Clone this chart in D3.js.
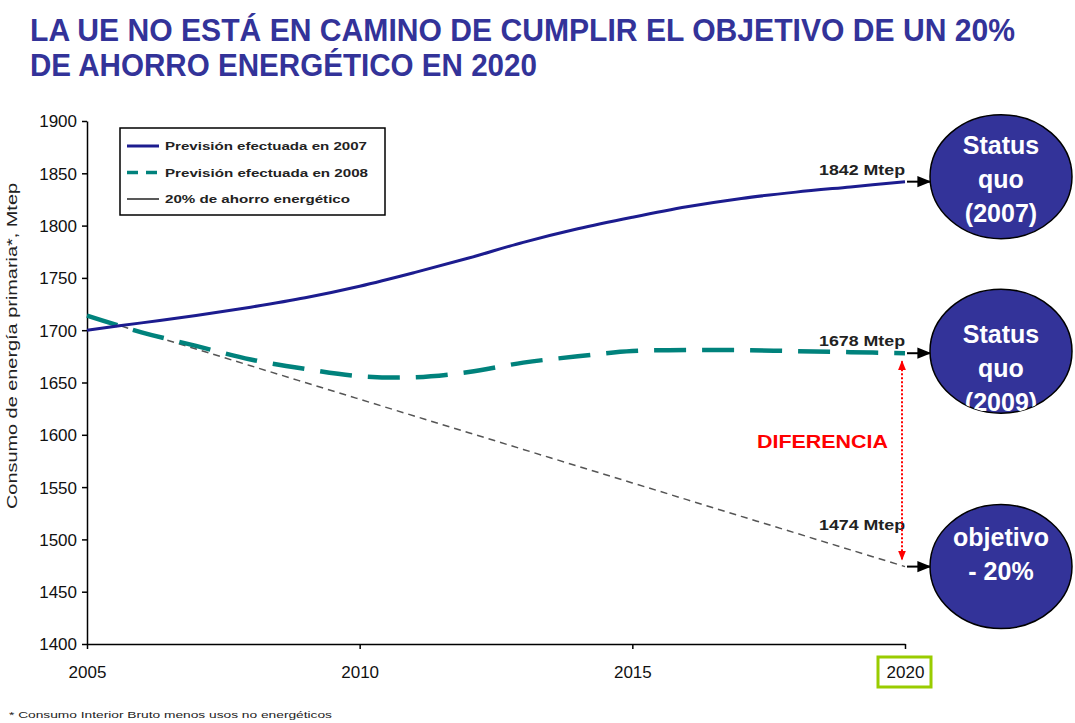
<!DOCTYPE html>
<html>
<head>
<meta charset="utf-8">
<script src="https://cdn.jsdelivr.net/npm/d3@7"></script>
<style>
  html, body { margin: 0; padding: 0; background: #fff; }
  svg { display: block; font-family: Arial, "Liberation Sans", sans-serif; }
</style>
</head>
<body>
<svg id="chart" width="1075" height="723"></svg>
<script>
// data (Mtep)
const years = [2005, 2006, 2007, 2008, 2009, 2010, 2011, 2012, 2013, 2014, 2015, 2016, 2017, 2018, 2019, 2020];
const prev2007 = [1700, 1707, 1714, 1722, 1731, 1742, 1755, 1769, 1784, 1797, 1808, 1818, 1826, 1832, 1837, 1842];
const prev2009 = [1714, 1698, 1685, 1672, 1663, 1656, 1655, 1660, 1669, 1675, 1680, 1681, 1681, 1680, 1679, 1678];
const target = [1714, 1698, 1682, 1666, 1650, 1634, 1618, 1602, 1586, 1570, 1554, 1538, 1522, 1506, 1490, 1474];

const yTicks = [1400, 1450, 1500, 1550, 1600, 1650, 1700, 1750, 1800, 1850, 1900];
const xTicks = [2005, 2010, 2015, 2020];

const legendLabels = ["Previsión efectuada en 2007", "Previsión efectuada en 2008", "20% de ahorro energético"];
const bubbles = [
  { lines: ["Status", "quo", "(2007)"], value: 1842, label: "1842 Mtep" },
  { lines: ["Status", "quo", "(2009)"], value: 1678, label: "1678 Mtep" },
  { lines: ["objetivo", "- 20%"], value: 1474, label: "1474 Mtep" }
];

const BLUE = "#1c1c8f", TEAL = "#00827c", GREY = "#555", BUBBLE = "#333399";

const svg = d3.select("#chart");

const x = d3.scaleLinear().domain([2005, 2020]).range([87, 905]);
const y = d3.scaleLinear().domain([1400, 1900]).range([644, 121]);

// defs: arrow heads
const defs = svg.append("defs");
defs.append("marker").attr("id", "arrBlack")
  .attr("viewBox", "0 0 10 10").attr("refX", 9).attr("refY", 5)
  .attr("markerWidth", 7).attr("markerHeight", 7).attr("orient", "auto")
  .append("path").attr("d", "M0,1L10,5L0,9Z").attr("fill", "#000");
defs.append("marker").attr("id", "arrRed")
  .attr("viewBox", "0 0 10 10").attr("refX", 9).attr("refY", 5)
  .attr("markerWidth", 5).attr("markerHeight", 5).attr("orient", "auto-start-reverse")
  .append("path").attr("d", "M0,1L10,5L0,9Z").attr("fill", "#f00");

// title
const title = svg.append("g").attr("fill", BUBBLE).attr("font-weight", "bold")
  .attr("font-family", "'Liberation Sans Narrow', 'Arial Narrow', Arial, sans-serif")
  .attr("font-size", 31);
title.append("text").attr("x", 30).attr("y", 41)
  .attr("textLength", 985).attr("lengthAdjust", "spacingAndGlyphs")
  .text("LA UE NO ESTÁ EN CAMINO DE CUMPLIR EL OBJETIVO DE UN 20%");
title.append("text").attr("x", 30).attr("y", 76)
  .attr("textLength", 507).attr("lengthAdjust", "spacingAndGlyphs")
  .text("DE AHORRO ENERGÉTICO EN 2020");

// axes
const yAxis = svg.append("g").attr("transform", "translate(87,0)")
  .call(d3.axisLeft(y).tickValues(yTicks).tickFormat(d3.format("d")).tickSize(5).tickSizeOuter(0));
const xAxis = svg.append("g").attr("transform", "translate(0,644)")
  .call(d3.axisBottom(x).tickValues(xTicks).tickFormat(d3.format("d")).tickSize(5).tickSizeOuter(0));
[yAxis, xAxis].forEach(a => {
  a.selectAll("path, line").attr("stroke", "#000").attr("stroke-width", 1.5);
  a.selectAll("text").attr("font-size", 17).attr("fill", "#111")
    .attr("font-family", "Arial, 'Liberation Sans', sans-serif");
});
yAxis.selectAll("text").attr("x", -10).attr("dy", "0.35em");
xAxis.selectAll("text").attr("y", 28).attr("dy", "0.35em");

// green box round 2020
svg.append("rect").attr("x", x(2020) - 27).attr("y", 657).attr("width", 53).attr("height", 30)
  .attr("fill", "none").attr("stroke", "#99cc00").attr("stroke-width", 3);

// y label
svg.append("text")
  .attr("transform", "translate(17,346) rotate(-90)")
  .attr("text-anchor", "middle").attr("font-size", 14).attr("fill", "#222")
  .attr("textLength", 326).attr("lengthAdjust", "spacingAndGlyphs")
  .text("Consumo de energía primaria*, Mtep");

// lines
const line = vals => d3.line()
  .x((d, i) => x(years[i]))
  .y(d => y(d))
  .curve(d3.curveCatmullRom)(vals);

svg.append("path").attr("d", line(target)).attr("fill", "none")
  .attr("stroke", GREY).attr("stroke-width", 1.5).attr("stroke-dasharray", "7,5");
svg.append("path").attr("d", line(prev2009)).attr("fill", "none")
  .attr("stroke", TEAL).attr("stroke-width", 4.5).attr("stroke-dasharray", "32,16");
svg.append("path").attr("d", line(prev2007)).attr("fill", "none")
  .attr("stroke", BLUE).attr("stroke-width", 3);

// legend
const leg = svg.append("g");
leg.append("rect").attr("x", 120).attr("y", 128).attr("width", 265).attr("height", 87)
  .attr("fill", "#fff").attr("stroke", "#000").attr("stroke-width", 1.5);
const legStyles = [
  { stroke: BLUE, w: 3, dash: null, len: 202 },
  { stroke: TEAL, w: 3.5, dash: "11,8", len: 203 },
  { stroke: "#222", w: 1.5, dash: null, len: 185 }
];
legendLabels.forEach((t, i) => {
  const ly = 146 + i * 26.5;
  leg.append("line").attr("x1", 127).attr("x2", 159).attr("y1", ly).attr("y2", ly)
    .attr("stroke", legStyles[i].stroke).attr("stroke-width", legStyles[i].w)
    .attr("stroke-dasharray", legStyles[i].dash);
  leg.append("text").attr("x", 165).attr("y", ly + 4).attr("font-size", 11.5)
    .attr("textLength", legStyles[i].len).attr("lengthAdjust", "spacingAndGlyphs")
    .attr("font-weight", "bold").attr("fill", "#222").text(t);
});

// end labels, arrows and bubbles
const bx = 1001, rx = 71, ry = 62;
const textTop = [-23, -8, -21];
bubbles.forEach((b, i) => {
  const yv = y(b.value);
  svg.append("text").attr("x", x(2020)).attr("y", yv - (i === 2 ? 37 : 7))
    .attr("text-anchor", "end").attr("font-size", 14).attr("font-weight", "bold")
    .attr("textLength", 86).attr("lengthAdjust", "spacingAndGlyphs")
    .attr("fill", "#222").text(b.label);
  svg.append("line").attr("x1", x(2020) + 2).attr("x2", bx - rx).attr("y1", yv).attr("y2", yv)
    .attr("stroke", "#000").attr("stroke-width", 2).attr("marker-end", "url(#arrBlack)");
  const cy = yv - (i === 0 ? 5 : i === 1 ? 2 : 0);
  const cid = "clip" + i;
  defs.append("clipPath").attr("id", cid)
    .append("ellipse").attr("cx", bx).attr("cy", cy).attr("rx", rx).attr("ry", ry);
  svg.append("ellipse").attr("cx", bx).attr("cy", cy).attr("rx", rx).attr("ry", ry)
    .attr("fill", BUBBLE).attr("stroke", "#000").attr("stroke-width", 1.5);
  const g = svg.append("g").attr("clip-path", `url(#${cid})`);
  const top = cy + textTop[i];
  b.lines.forEach((t, j) => {
    g.append("text").attr("x", bx).attr("y", top + j * 34)
      .attr("text-anchor", "middle").attr("font-size", 25).attr("font-weight", "bold")
      .attr("fill", "#fff").text(t);
  });
});

// DIFERENCIA
svg.append("line").attr("x1", 902).attr("x2", 902).attr("y1", y(1678) + 8).attr("y2", y(1474) - 7)
  .attr("stroke", "#f00").attr("stroke-width", 2).attr("stroke-dasharray", "2,2")
  .attr("marker-start", "url(#arrRed)").attr("marker-end", "url(#arrRed)");
svg.append("text").attr("x", 757).attr("y", 448)
  .attr("textLength", 131).attr("lengthAdjust", "spacingAndGlyphs")
  .attr("font-size", 19).attr("font-weight", "bold").attr("fill", "#f00").text("DIFERENCIA");

// footnote
svg.append("text").attr("x", 9).attr("y", 718).attr("font-size", 9.5).attr("fill", "#222")
  .attr("textLength", 323).attr("lengthAdjust", "spacingAndGlyphs")
  .text("* Consumo Interior Bruto menos usos no energéticos");
</script>
</body>
</html>
